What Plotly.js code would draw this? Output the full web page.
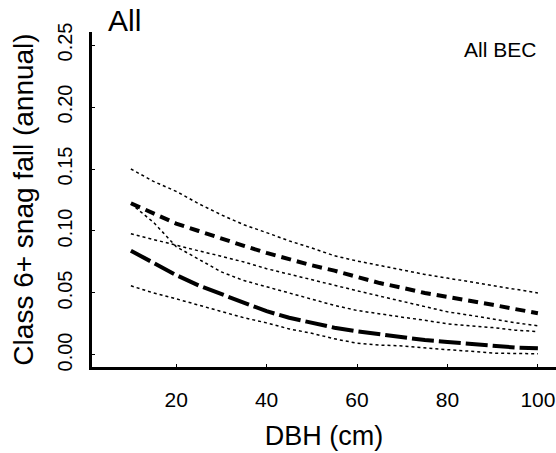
<!DOCTYPE html>
<html>
<head>
<meta charset="utf-8">
<script src="https://cdn.plot.ly/plotly-3.0.1.min.js"></script>
<style>html,body{margin:0;padding:0;background:#fff;}#chart{width:556px;height:453px;}</style>
</head>
<body>
<div id="chart"></div>
<script>
// DBH (cm)
const dbh = [10,15,20,25,30,35,40,45,50,55,60,65,70,75,80,85,90,95,100];
// short-dashed series (upper) and its bounds
const seriesA = [0.1224,0.114,0.106,0.100,0.0938,0.088,0.0823,0.077,0.0723,0.068,0.0626,0.058,0.0542,0.050,0.0469,0.044,0.0405,0.037,0.0337];
const seriesAUpper = [0.150,0.140,0.132,0.122,0.113,0.105,0.0987,0.092,0.0863,0.080,0.0758,0.072,0.0682,0.065,0.062,0.059,0.0558,0.053,0.050];
const seriesALower = [0.122,0.107,0.0874,0.0775,0.067,0.060,0.055,0.050,0.0448,0.040,0.0359,0.033,0.0305,0.028,0.0251,0.0235,0.0221,0.020,0.0189];
// long-dashed series (lower) and its bounds
const seriesB = [0.0841,0.074,0.0645,0.056,0.049,0.042,0.0353,0.030,0.0259,0.022,0.0191,0.0165,0.014,0.012,0.0105,0.009,0.0073,0.006,0.0054];
const seriesBUpper = [0.0977,0.093,0.0885,0.084,0.0796,0.075,0.0696,0.065,0.0604,0.056,0.0518,0.0475,0.0434,0.039,0.0348,0.032,0.0289,0.026,0.0235];
const seriesBLower = [0.0558,0.050,0.0453,0.040,0.035,0.030,0.0259,0.021,0.0175,0.013,0.0095,0.008,0.0073,0.0055,0.0043,0.003,0.0015,0.0012,0.001];
const xTicks = [20,40,60,80,100];
const yTicks = [0,0.05,0.10,0.15,0.20,0.25];
const yTickText = ['0.00','0.05','0.10','0.15','0.20','0.25'];

const FONT = 'Liberation Sans, Arial, sans-serif';
function dotted(y){ return {x:dbh, y:y, mode:'lines', line:{color:'#000', width:1.5, dash:'dot'}, hoverinfo:'skip', showlegend:false}; }
const traces = [
  dotted(seriesAUpper),
  dotted(seriesALower),
  dotted(seriesBUpper),
  dotted(seriesBLower),
  {x:dbh, y:seriesA, mode:'lines', line:{color:'#000', width:4, dash:'10px,6px'}, showlegend:false},
  {x:dbh, y:seriesB, mode:'lines', line:{color:'#000', width:4, dash:'22px,5px'}, showlegend:false}
];
const layout = {
  width:556, height:453,
  margin:{l:92, r:0, t:32, b:86},
  paper_bgcolor:'#fff', plot_bgcolor:'#fff',
  font:{family:FONT, color:'#000'},
  showlegend:false,
  xaxis:{range:[1.4,104], tickvals:xTicks, ticktext:xTicks.map(String), ticks:'inside', ticklen:3, tickwidth:1, tickcolor:'#000',
    showline:true, linewidth:3, linecolor:'#000', showgrid:false, zeroline:false, ticklabelstandoff:12,
    tickfont:{size:21, family:FONT}, title:{text:'DBH (cm)', font:{size:27, family:FONT}, standoff:16}},
  yaxis:{range:[-0.0097,0.2605], tickvals:yTicks, ticktext:yTickText, ticks:'inside', ticklen:3, tickwidth:1, tickcolor:'#000',
    showline:true, linewidth:3, linecolor:'#000', showgrid:false, zeroline:false, tickangle:-90, ticklabelstandoff:9,
    tickfont:{size:20, family:FONT}, title:{text:'Class 6+ snag fall (annual)', font:{size:28, family:FONT}, standoff:13}},
  annotations:[
    {text:'All', xref:'paper', yref:'paper', x:0.031, y:1.033, xanchor:'left', yanchor:'middle', showarrow:false, font:{size:30, family:FONT}},
    {text:'All BEC', xref:'paper', yref:'paper', x:0.962, y:0.949, xanchor:'right', yanchor:'middle', showarrow:false, font:{size:21, family:FONT}}
  ]
};
Plotly.newPlot('chart', traces, layout, {staticPlot:true, displayModeBar:false});
</script>
</body>
</html>
